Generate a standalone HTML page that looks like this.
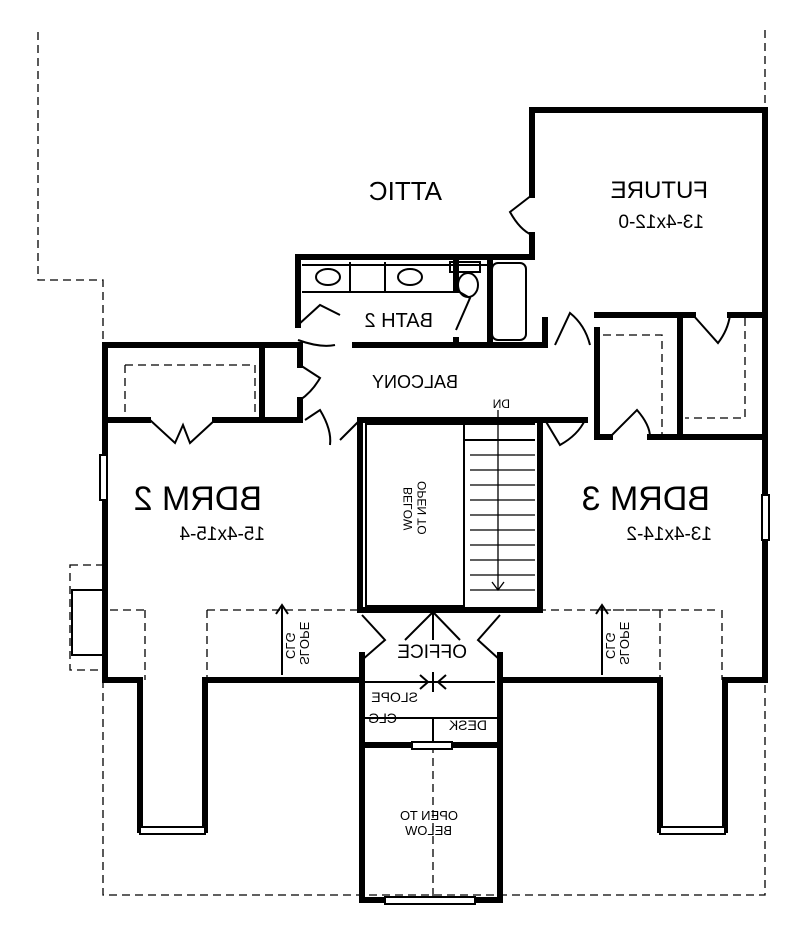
<!DOCTYPE html>
<html><head><style>body{margin:0;background:#fff}svg{display:block}text{font-family:"Liberation Sans",sans-serif;fill:#000}</style></head><body>
<svg width="800" height="938" viewBox="0 0 800 938" xmlns="http://www.w3.org/2000/svg">
<g fill="none" stroke="#000" stroke-width="1.3" stroke-dasharray="8,5">
<path d="M38 32 V280 H103 V345"/>
<path d="M103 680 V895 H765 V680"/>
<path d="M765 30 V110"/>
<path d="M207 610 H360 M538 610 H720 M110 610 H145 M207 610 V680 M145 610 V680 M722 610 V680 M660 610 V680 M600 610 H660"/>
<path d="M125 365 H255 V420 M125 365 V420 M70 565 H103 V670 H70 Z"/>
<path d="M603 335 H662 V435"/>
<path d="M745 318 V418 H685"/>
<path d="M433 745 V900"/>
</g>
<g fill="none" stroke="#000" stroke-width="6" stroke-linecap="square">
<path d="M532 195 V110 H765 V680 H725 V830 M660 830 V680 H500 V900 M362 900 V655"/>
<path d="M532 235 V257 H298 V325"/>
<path d="M355 345 H545 M545 320 V345"/>
<path d="M298 345 H105 V680 H140 V830 M205 830 V680 H362"/>
<path d="M105 420 H148 M215 420 H300 M262 345 V420 M300 345 V365 M300 400 V420"/>
<path d="M360 420 H540 V610 M360 420 V610 M360 610 H540"/>
<path d="M540 420 H585 M597 330 V437 H610 M650 437 H765 M597 315 H693 M730 315 H765 M680 315 V435"/>
<path d="M500 655 V680"/>
<path d="M362 745 H500 M362 900 H500"/>
<path d="M456 257 V290 M456 340 V345"/>
<path d="M490 262 V340"/>
</g>
<g fill="none" stroke="#000" stroke-width="2">
<rect x="366" y="424" width="98" height="182"/>
<path d="M465 424 H535 M465 440 H535"/>
<g stroke-width="1.3"><path d="M470 440 H535 M470 455 H535 M470 470 H535 M470 485 H535 M470 500 H535 M470 515 H535 M470 530 H535 M470 545 H535 M470 560 H535 M470 575 H535 M470 590 H535 M498 410 V590 M492 582 L498 590 L504 582"/></g>
<path d="M532 195 L510 212 Q520 230 532 235"/>
<path d="M300 365 L320 378 Q312 392 300 400"/>
<path d="M298 325 L320 305 L340 315 M298 340 Q320 348 335 345"/>
<path d="M555 345 L570 313 Q585 325 590 345"/>
<path d="M305 420 L320 410 Q332 430 330 445 M360 420 L340 440"/>
<path d="M545 420 L560 445 Q578 435 585 420"/>
<path d="M150 420 L175 443 L183 425 L190 443 L215 420"/>
<path d="M456 290 L470 298 L456 330"/>
<path d="M693 315 L718 343 Q728 330 730 315"/>
<path d="M610 437 L637 410 Q650 425 650 437"/>
<path d="M362 615 L385 640 L362 660 M500 615 L478 640 L500 660 M433 612 L405 640 M433 612 L460 640 M433 612 V640"/>
<path d="M365 682 H495 M420 675 L428 682 L420 689 M446 675 L438 682 L446 689 M433 672 V692"/>
<path d="M365 718 H498 M433 718 V745"/>
<rect x="412" y="742" width="40" height="7" fill="#fff"/>
<rect x="385" y="897" width="90" height="7" fill="#fff"/>
<rect x="140" y="827" width="65" height="7" fill="#fff"/>
<rect x="660" y="827" width="65" height="7" fill="#fff"/>
<rect x="100" y="455" width="7" height="45" fill="#fff"/>
<rect x="762" y="495" width="7" height="45" fill="#fff"/>
<path d="M302 265 H488 M302 292 H456 M350 262 V292 M385 262 V292"/>
<ellipse cx="328" cy="277" rx="12" ry="8"/><ellipse cx="410" cy="277" rx="12" ry="8"/>
<rect x="450" y="262" width="30" height="10"/><ellipse cx="468" cy="285" rx="10" ry="12"/>
<rect x="492" y="263" width="34" height="77" rx="6"/>
<path d="M282 605 V675 M276 614 L282 605 L288 614 M602 605 V675 M596 614 L602 605 L608 614"/>
<path d="M72 590 H103 V655 H72 Z"/>
</g>
<g transform="scale(-1,1)">
<text x="-442" y="200" font-size="26">ATTIC</text>
<text x="-708" y="198" font-size="24">FUTURE</text>
<text x="-704" y="228" font-size="19">13-4x12-0</text>
<text x="-433" y="327" font-size="20">BATH 2</text>
<text x="-458" y="388" font-size="18">BALCONY</text>
<text x="-510" y="408" font-size="12">DN</text>
<text x="-262" y="510" font-size="34">BDRM 2</text>
<text x="-265" y="540" font-size="19">15-4x15-4</text>
<text x="-710" y="510" font-size="34">BDRM 3</text>
<text x="-712" y="540" font-size="19">13-4x14-2</text>
<text x="-467" y="658" font-size="19">OFFICE</text>
<text x="-418" y="702" font-size="14">SLOPE</text>
<text x="-397" y="723" font-size="14">CLG</text>
<text x="-487" y="730" font-size="14">DESK</text>
<text x="-458" y="820" font-size="13">OPEN TO</text>
<text x="-452" y="835" font-size="13">BELOW</text>
</g>
<g transform="translate(412,515) rotate(90) scale(1,-1)"><text x="-28" y="0" font-size="12">BELOW</text><text x="-34" y="14" font-size="12">OPEN TO</text></g>
<g transform="translate(300,645) rotate(90) scale(-1,1)"><text x="-20" y="0" font-size="13">SLOPE</text><text x="-14" y="14" font-size="13">CLG</text></g>
<g transform="translate(620,645) rotate(90) scale(-1,1)"><text x="-20" y="0" font-size="13">SLOPE</text><text x="-14" y="14" font-size="13">CLG</text></g>
</svg>
</body></html>
